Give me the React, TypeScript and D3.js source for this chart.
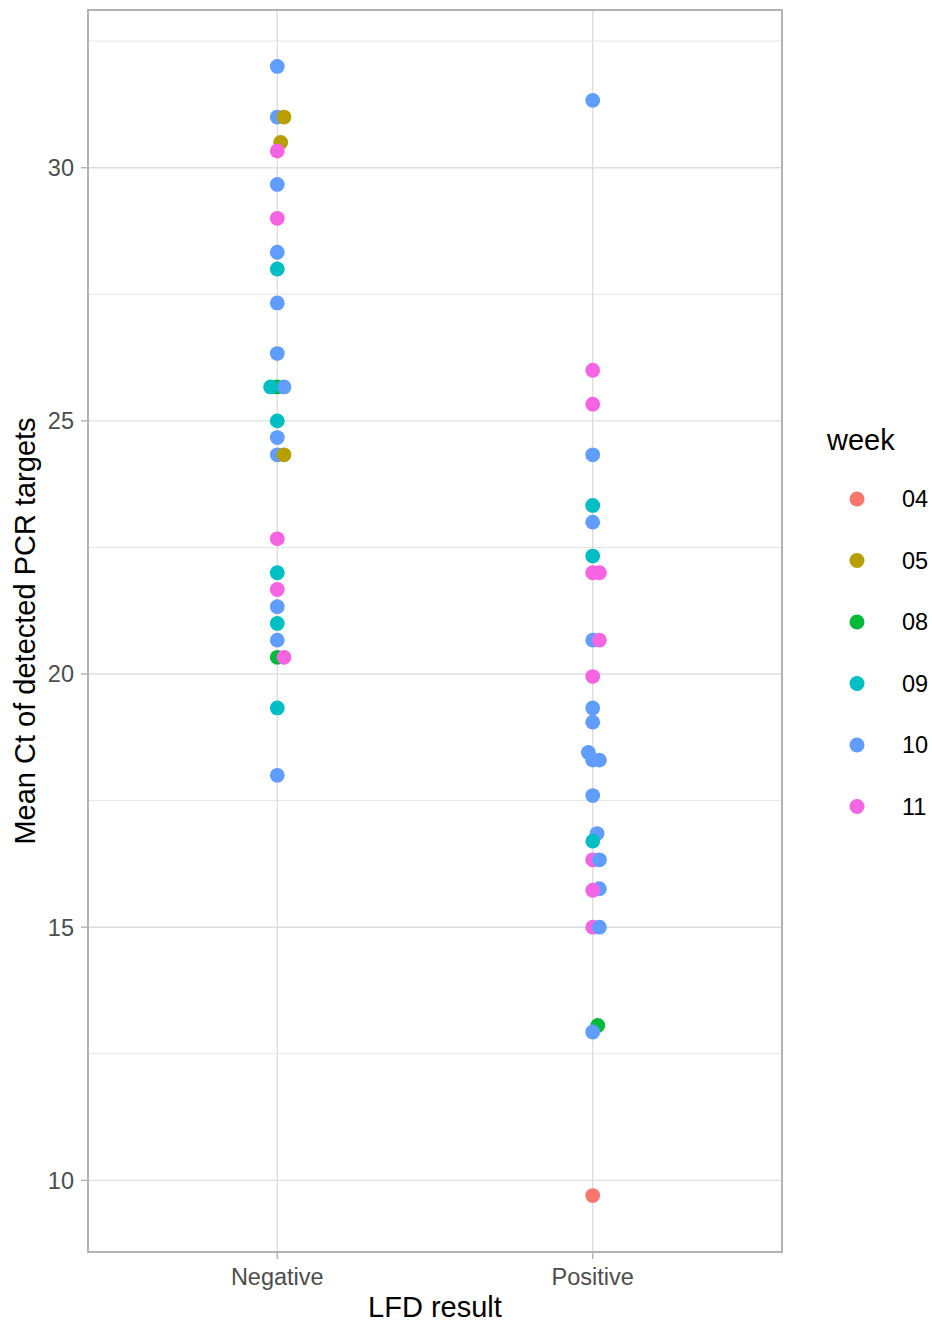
import * as d3 from 'd3';
import React from 'react';

// LFD result categories
const lfdCategories = ['Negative', 'Positive'];
const weekLevels = ['04', '05', '08', '09', '10', '11'];
const weekColors = ['#F8766D', '#B79F00', '#00BA38', '#00BFC4', '#619CFF', '#F564E3'];

// Mean Ct values, LFD negative
const negativeCt = [32.0, 31.0, 31.0, 30.5, 30.33, 29.67, 29.0, 28.33, 28.0, 27.33, 26.33, 25.67, 25.67, 25.67, 25.0, 24.67, 24.33, 24.33, 22.67, 22.0, 21.67, 21.33, 21.0, 20.67, 20.33, 20.33, 19.33, 18.0];
const negativeWeek = ['10', '10', '05', '05', '11', '10', '11', '10', '09', '10', '10', '08', '10', '09', '09', '10', '10', '05', '11', '09', '11', '10', '09', '10', '08', '11', '09', '10'];

// Mean Ct values, LFD positive
const positiveCt = [31.33, 26.0, 25.33, 24.33, 23.33, 23.0, 22.33, 22.0, 22.0, 20.67, 20.67, 19.95, 19.33, 19.05, 18.45, 18.3, 18.3, 17.6, 16.85, 16.7, 16.33, 16.33, 15.76, 15.73, 15.0, 15.0, 13.06, 12.93, 9.7];
const positiveWeek = ['10', '11', '11', '10', '09', '10', '09', '11', '11', '10', '11', '11', '10', '10', '10', '10', '10', '10', '10', '09', '11', '10', '10', '11', '11', '10', '08', '10', '04'];

const yTicks = [10, 15, 20, 25, 30];
const yMinorTicks = [12.5, 17.5, 22.5, 27.5, 32.5];

const W = 932;
const H = 1324;
const panel = { left: 88, right: 782, top: 10, bottom: 1252 };
const font = '"Liberation Sans", Arial, Helvetica, sans-serif';

type Pt = { lfd: string; ct: number; week: string; dx: number };

// simple beeswarm: place points in ascending order of value, nearest free spot to the centre
function swarm(values: number[], y: (v: number) => number, sx: number, sy: number): number[] {
  const order = d3.range(values.length).sort((a, b) => values[a] - values[b] || a - b);
  const placed: { x: number; y: number }[] = [];
  const out = new Array(values.length).fill(0);
  order.forEach((i) => {
    const py = y(values[i]);
    const near = placed.filter((p) => Math.abs(p.y - py) < sy);
    const need = (p: { y: number }) => sx * Math.sqrt(1 - ((p.y - py) / sy) ** 2);
    const cands = [0];
    near.forEach((p) => cands.push(p.x + need(p), p.x - need(p)));
    const ok = cands.filter((c) => near.every((p) => Math.abs(c - p.x) >= need(p) - 1e-6));
    ok.sort((a, b) => Math.abs(a) - Math.abs(b) || b - a);
    const x = ok[0];
    placed.push({ x, y: py });
    out[i] = x;
  });
  return out;
}

export default function App() {
  const allCt = negativeCt.concat(positiveCt);
  const [lo, hi] = d3.extent(allCt) as [number, number];
  const pad = (hi - lo) * 0.05;
  const y = d3.scaleLinear().domain([lo - pad, hi + pad]).range([panel.bottom, panel.top]);
  // discrete x scale with 0.6 expansion on each side
  const xs = d3.scaleLinear().domain([0.4, lfdCategories.length + 0.6]).range([panel.left, panel.right]);
  const xPos = (c: string) => xs(lfdCategories.indexOf(c) + 1);
  const color = d3.scaleOrdinal<string, string>().domain(weekLevels).range(weekColors);

  const negDx = swarm(negativeCt, y, 6.7, 10);
  const posDx = swarm(positiveCt, y, 6.7, 10);
  const points: Pt[] = [
    ...negativeCt.map((ct, i) => ({ lfd: 'Negative', ct, week: negativeWeek[i], dx: negDx[i] })),
    ...positiveCt.map((ct, i) => ({ lfd: 'Positive', ct, week: positiveWeek[i], dx: posDx[i] })),
  ];

  const legendX = 857;
  const legendY0 = 499;
  const legendStep = 61.5;

  return (
    <svg width={W} height={H} style={{ position: 'absolute', left: 0, top: 0 }} fontFamily={font}>
      <rect x={0} y={0} width={W} height={H} fill="#fff" />
      {yMinorTicks.map((t) => (
        <line key={'m' + t} x1={panel.left} x2={panel.right} y1={y(t)} y2={y(t)} stroke="#DEDEDE" strokeWidth={0.8} />
      ))}
      {yTicks.map((t) => (
        <line key={'g' + t} x1={panel.left} x2={panel.right} y1={y(t)} y2={y(t)} stroke="#DEDEDE" strokeWidth={1.4} />
      ))}
      {lfdCategories.map((c) => (
        <line key={'v' + c} x1={xPos(c)} x2={xPos(c)} y1={panel.top} y2={panel.bottom} stroke="#DEDEDE" strokeWidth={1.4} />
      ))}
      {points.map((p, i) => (
        <circle key={i} cx={xPos(p.lfd) + p.dx} cy={y(p.ct)} r={7.4} fill={color(p.week)} />
      ))}
      <rect x={panel.left} y={panel.top} width={panel.right - panel.left} height={panel.bottom - panel.top} fill="none" stroke="#B3B3B3" strokeWidth={2} />

      {/* y axis */}
      {yTicks.map((t) => (
        <g key={'yt' + t}>
          <line x1={panel.left - 7} x2={panel.left} y1={y(t)} y2={y(t)} stroke="#B3B3B3" strokeWidth={1.4} />
          <text x={panel.left - 14} y={y(t)} dy="0.36em" textAnchor="end" fontSize={23.5} fill="#4D4D4D">{t}</text>
        </g>
      ))}
      {/* x axis */}
      {lfdCategories.map((c) => (
        <g key={'xt' + c}>
          <line x1={xPos(c)} x2={xPos(c)} y1={panel.bottom} y2={panel.bottom + 7} stroke="#B3B3B3" strokeWidth={1.4} />
          <text x={xPos(c)} y={1285} textAnchor="middle" fontSize={23.5} fill="#4D4D4D">{c}</text>
        </g>
      ))}
      <text x={(panel.left + panel.right) / 2} y={1317} textAnchor="middle" fontSize={29} fill="#000">LFD result</text>
      <text transform={`translate(35,${(panel.top + panel.bottom) / 2}) rotate(-90)`} textAnchor="middle" fontSize={29} fill="#000">
        Mean Ct of detected PCR targets
      </text>

      {/* legend */}
      <text x={827} y={450} fontSize={29} fill="#000">week</text>
      {weekLevels.map((w, i) => (
        <g key={'l' + w} transform={`translate(${legendX},${legendY0 + i * legendStep})`}>
          <circle r={7.5} fill={color(w)} />
          <text x={45} dy="0.36em" fontSize={23.5} fill="#000">{w}</text>
        </g>
      ))}
    </svg>
  );
}
